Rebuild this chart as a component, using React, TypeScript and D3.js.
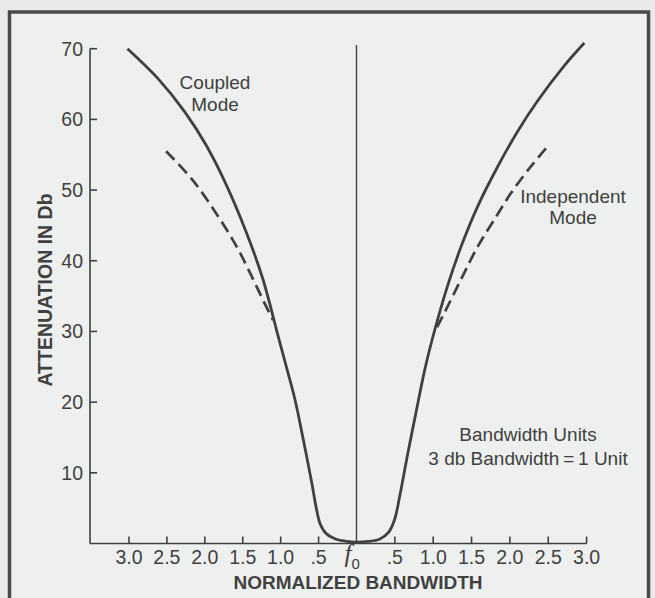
import React from 'react';
import * as d3 from 'd3';

// ---- data ----
const yTicks = [10, 20, 30, 40, 50, 60, 70];
const xTicks = [-3, -2.5, -2, -1.5, -1, -0.5, 0.5, 1, 1.5, 2, 2.5, 3];
const xTickLabels = ['3.0', '2.5', '2.0', '1.5', '1.0', '.5', '.5', '1.0', '1.5', '2.0', '2.5', '3.0'];

// Coupled mode (solid): signed bandwidth offset from f0 vs attenuation (dB)
const coupledOffset = [-3.02, -2.62, -2.26, -1.98, -1.72, -1.46, -1.24, -1.03, -0.92, -0.81, -0.7, -0.59, -0.53, -0.48, -0.4, -0.27, -0.13, 0, 0.15, 0.3, 0.42, 0.5, 0.56, 0.67, 0.79, 0.89, 0.99, 1.18, 1.36, 1.58, 1.84, 2.1, 2.36, 2.71, 2.97];
const coupledDb = [70, 65.8, 61.0, 56.3, 50.8, 44.2, 37.6, 29.2, 24.8, 20.3, 14.6, 8.6, 5.0, 2.8, 1.4, 0.6, 0.3, 0.2, 0.3, 0.6, 1.6, 3.5, 6.5, 12.8, 19.3, 24.6, 29.0, 36.2, 41.9, 47.7, 53.3, 58.3, 62.6, 67.6, 70.8];

// Independent mode (dashed)
const indepLeftOffset = [-2.51, -2.16, -1.85, -1.58, -1.36, -1.19, -1.1];
const indepLeftDb = [55.5, 51.4, 46.7, 42.0, 37.3, 33.5, 31.6];
const indepRightOffset = [1.05, 1.14, 1.36, 1.58, 1.79, 2.01, 2.27, 2.47];
const indepRightDb = [30.6, 32.5, 37.3, 42.0, 45.7, 49.5, 53.3, 55.9];

const W = 655;
const H = 598;
const INK = '#404040';
const SANS = '"Liberation Sans", Arial, sans-serif';

export default function App() {
  const x = d3.scaleLinear().domain([-3, 0, 3]).range([129, 356.5, 586.6]);
  const y = d3.scaleLinear().domain([0, 70]).range([543.5, 48.7]);

  const line = d3
    .line<[number, number]>()
    .x((d) => x(d[0]))
    .y((d) => y(d[1]))
    .curve(d3.curveCatmullRom.alpha(0.5));

  const coupled = coupledOffset.map((o, i) => [o, coupledDb[i]] as [number, number]);
  const indepL = indepLeftOffset.map((o, i) => [o, indepLeftDb[i]] as [number, number]);
  const indepR = indepRightOffset.map((o, i) => [o, indepRightDb[i]] as [number, number]);

  const axisX = 90;
  const y0 = y(0);

  return (
    <svg
      width={W}
      height={H}
      style={{ position: 'absolute', left: 0, top: 0, background: '#e9ebea' }}
      fontFamily={SANS}
    >
      {/* panel */}
      <rect x={9.5} y={12} width={639} height={600} fill="#eef0ef" stroke="#4a4a4a" strokeWidth={3.5} />

      {/* y axis */}
      <line x1={axisX} x2={axisX} y1={y(70)} y2={y0} stroke={INK} strokeWidth={1.6} />
      {yTicks.map((t) => (
        <g key={t}>
          <line x1={axisX} x2={axisX + 7} y1={y(t)} y2={y(t)} stroke={INK} strokeWidth={1.6} />
          <text x={83} y={y(t)} dy="0.36em" textAnchor="end" fontSize={19.5} fill={INK}>
            {t}
          </text>
        </g>
      ))}

      {/* x axis */}
      <line x1={axisX} x2={x(3)} y1={y0} y2={y0} stroke={INK} strokeWidth={1.6} />
      {xTicks.map((t, i) => (
        <g key={t}>
          <line x1={x(t)} x2={x(t)} y1={y0} y2={y0 - 7} stroke={INK} strokeWidth={1.6} />
          <text x={x(t)} y={564} textAnchor="middle" fontSize={19.5} fill={INK}>
            {xTickLabels[i]}
          </text>
        </g>
      ))}
      <text x={x(0) - 12} y={562} fontSize={25} fill={INK}>
        <tspan fontFamily='"Liberation Serif", serif' fontStyle="italic">f</tspan>
        <tspan fontSize={15} dy={7}>0</tspan>
      </text>

      {/* center line */}
      <line x1={x(0)} x2={x(0)} y1={45} y2={y0} stroke={INK} strokeWidth={1.4} />

      {/* curves */}
      <path d={line(coupled) || ''} fill="none" stroke={INK} strokeWidth={2.8} strokeLinejoin="round" />
      <path d={line(indepL) || ''} fill="none" stroke={INK} strokeWidth={2.7} strokeDasharray="12,6" />
      <path d={line(indepR) || ''} fill="none" stroke={INK} strokeWidth={2.7} strokeDasharray="12,6" />

      {/* annotations */}
      <text x={215} y={89} textAnchor="middle" fontSize={19} fill={INK}>Coupled</text>
      <text x={215} y={111} textAnchor="middle" fontSize={19} fill={INK}>Mode</text>
      <text x={573} y={203} textAnchor="middle" fontSize={19} fill={INK}>Independent</text>
      <text x={573} y={224} textAnchor="middle" fontSize={19} fill={INK}>Mode</text>
      <text x={528} y={441} textAnchor="middle" fontSize={19} fill={INK}>Bandwidth Units</text>
      <text x={528} y={465} textAnchor="middle" fontSize={19} fill={INK}>3 db Bandwidth{'\u2009'}={'\u2009'}1 Unit</text>

      {/* axis titles */}
      <text
        transform={`translate(52,290) rotate(-90)`}
        textAnchor="middle"
        fontSize={19.5}
        fontWeight="bold"
        fill={INK}
      >
        ATTENUATION IN Db
      </text>
      <text x={358} y={589} textAnchor="middle" fontSize={19} fontWeight="bold" fill={INK}>
        NORMALIZED BANDWIDTH
      </text>
    </svg>
  );
}
